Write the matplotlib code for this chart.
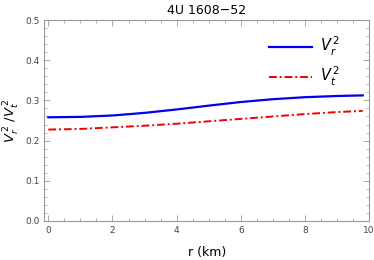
import matplotlib
matplotlib.use("Agg")
import matplotlib.pyplot as plt
from matplotlib.ticker import MultipleLocator

r_km = [0, 1, 2, 3, 4, 5, 6, 7, 8, 9, 9.8]
vr2 = [0.258, 0.259, 0.2625, 0.269, 0.2775, 0.287, 0.296, 0.303, 0.308, 0.311, 0.3125]
vt2 = [0.2275, 0.229, 0.233, 0.237, 0.242, 0.248, 0.254, 0.260, 0.266, 0.271, 0.274]
x_ticks = [0, 2, 4, 6, 8, 10]
y_ticks = [0.0, 0.1, 0.2, 0.3, 0.4, 0.5]

fig = plt.figure(figsize=(3.74, 2.6), dpi=100)
ax = fig.add_axes([0.118, 0.150, 0.869, 0.773])
ax.plot(r_km, vr2, color="#0000ee", lw=1.6, label=r"$V_r^{\,2}$")
ax.plot(r_km, vt2, color="#ee0000", lw=1.4, ls=(0, (4, 1.5, 1, 1.5)), label=r"$V_t^{\,2}$")
ax.set_xlim(-0.13, 10)
ax.set_ylim(0, 0.5)
ax.set_xticks(x_ticks)
ax.set_yticks(y_ticks)
ax.xaxis.set_minor_locator(MultipleLocator(0.5))
ax.yaxis.set_minor_locator(MultipleLocator(0.02))
ax.tick_params(which="both", direction="in", top=True, right=True, color="#999999", labelsize=6.5, labelcolor="#444444")
ax.tick_params(which="major", length=4, width=0.6)
ax.tick_params(which="minor", length=2, width=0.5)
ax.set_yticklabels([f"{v:.1f}" for v in y_ticks])
for s in ax.spines.values():
    s.set_color("#999999")
    s.set_linewidth(0.8)
ax.set_title("4U 1608\u221252", fontsize=9, pad=4)
ax.set_xlabel("r (km)", fontsize=9, labelpad=8)
ax.set_ylabel(r"$V_r^{\,2}$ /$V_t^{\,2}$", fontsize=9.5, labelpad=2)
ax.legend(loc="upper right", frameon=False, fontsize=10.5, handlelength=3.0, handletextpad=0.5,
          bbox_to_anchor=(0.95, 0.99), labelspacing=0.45)
fig.savefig("out.png", dpi=100)
